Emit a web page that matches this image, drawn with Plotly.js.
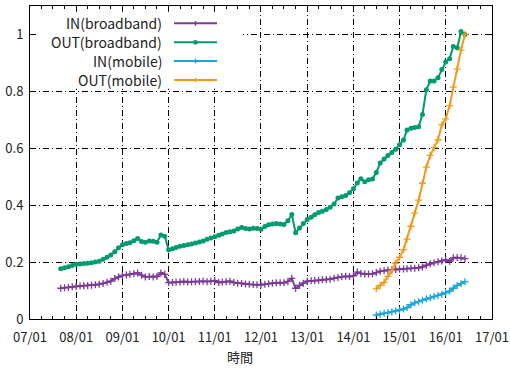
<!DOCTYPE html>
<html>
<head>
<meta charset="utf-8">
<script src="https://cdn.plot.ly/plotly-3.0.1.min.js"></script>
<style>
html,body{margin:0;padding:0;background:#fff;}
#chart{width:510px;height:374px;}
</style>
</head>
<body>
<div id="chart"></div>
<script>
// Monthly series; broadband from 2007-09, mobile from 2014-07, both through 2016-06
const bbStart = "2007-09";
const mobStart = "2014-07";

const inBroadband = [
  0.108,0.110,0.111,0.113,0.115,0.116,0.117,0.118,0.119,0.120,0.122,0.125,
  0.129,0.133,0.142,0.148,0.153,0.155,0.157,0.159,0.162,0.154,0.148,0.149,
  0.148,0.149,0.162,0.157,0.128,0.128,0.129,0.130,0.132,0.130,0.131,0.131,
  0.132,0.133,0.131,0.133,0.135,0.128,0.130,0.131,0.133,0.128,0.126,0.125,
  0.123,0.122,0.121,0.120,0.120,0.122,0.124,0.126,0.127,0.127,0.127,0.132,
  0.143,0.108,0.118,0.126,0.133,0.134,0.135,0.136,0.138,0.139,0.140,0.143,
  0.146,0.149,0.150,0.149,0.152,0.165,0.160,0.158,0.158,0.159,0.163,0.168,
  0.170,0.172,0.173,0.174,0.175,0.176,0.177,0.178,0.178,0.180,0.183,0.189,
  0.194,0.198,0.201,0.204,0.208,0.203,0.215,0.216,0.215,0.212
];
const outBroadband = [
  0.177,0.180,0.184,0.188,0.192,0.193,0.195,0.196,0.198,0.200,0.203,0.210,
  0.217,0.225,0.236,0.250,0.261,0.265,0.268,0.275,0.283,0.272,0.270,0.274,
  0.273,0.270,0.295,0.291,0.243,0.247,0.251,0.256,0.258,0.261,0.264,0.267,
  0.271,0.274,0.280,0.285,0.289,0.294,0.299,0.304,0.307,0.309,0.316,0.322,
  0.318,0.316,0.319,0.318,0.315,0.325,0.331,0.334,0.336,0.334,0.332,0.345,
  0.367,0.303,0.320,0.336,0.350,0.358,0.366,0.374,0.379,0.385,0.393,0.404,
  0.425,0.430,0.434,0.444,0.458,0.478,0.493,0.482,0.489,0.492,0.515,0.548,
  0.562,0.575,0.585,0.597,0.612,0.629,0.664,0.670,0.673,0.676,0.719,0.806,
  0.836,0.836,0.848,0.877,0.903,0.915,0.958,0.953,1.010,1.000
];
const inMobile = [
  0.014,0.017,0.020,0.022,0.025,0.028,0.031,0.035,0.040,0.050,0.057,0.061,
  0.066,0.071,0.075,0.079,0.083,0.087,0.092,0.098,0.108,0.118,0.124,0.131
];
const outMobile = [
  0.106,0.118,0.129,0.150,0.170,0.196,0.217,0.243,0.281,0.326,0.372,0.418,
  0.477,0.534,0.575,0.602,0.630,0.682,0.703,0.750,0.815,0.878,0.945,1.000
];
const seriesNames = ["IN(broadband)","OUT(broadband)","IN(mobile)","OUT(mobile)"];
const xTickFormat = "%y/%m";
const xAxisTitle = "時間";

function monthSeq(start, n){
  const [y0,m0] = start.split("-").map(Number);
  const out = [];
  for(let i=0;i<n;i++){
    const t = (m0-1)+i;
    const y = y0 + Math.floor(t/12), m = (t%12)+1;
    out.push(y + "-" + String(m).padStart(2,"0") + "-01");
  }
  return out;
}
const bbDates = monthSeq(bbStart, inBroadband.length);
const mobDates = monthSeq(mobStart, inMobile.length);

const colors = ["#7b3a96","#009b70","#1aa6dc","#f09a1a"];
const FONT = "'Noto Sans CJK JP', 'Noto Sans', sans-serif";

const crossMarker = c => ({symbol:"cross-thin-open", size:5, color:c, line:{color:c, width:1.3}});
const traces = [
  {x:bbDates, y:inBroadband, name:seriesNames[0], mode:"lines+markers",
   line:{color:colors[0], width:2}, marker:crossMarker(colors[0])},
  {x:bbDates, y:outBroadband, name:seriesNames[1], mode:"lines+markers",
   line:{color:colors[1], width:2}, marker:{symbol:"circle", size:5, color:colors[1]}},
  {x:mobDates, y:inMobile, name:seriesNames[2], mode:"lines+markers",
   line:{color:colors[2], width:2}, marker:crossMarker(colors[2])},
  {x:mobDates, y:outMobile, name:seriesNames[3], mode:"lines+markers",
   line:{color:colors[3], width:2}, marker:crossMarker(colors[3])}
];
traces.forEach(t=>{t.showlegend=false; t.hoverinfo="skip";});

// manual legend (text right-aligned, sample line to the right), in paper coords
const legY = [0.9447, 0.884, 0.8243, 0.7636];
const shapes = [
  // white legend background hiding the grid behind the key (leaves border ticks visible)
  {type:"rect", xref:"paper", yref:"paper", x0:0.013, x1:0.461, y0:0.736, y1:0.982,
   fillcolor:"#fff", line:{width:0}, layer:"above"}
];
const annotations = [];
legY.forEach((yy,i)=>{
  annotations.push({xref:"paper", yref:"paper", x:0.288, y:yy, xanchor:"right", yanchor:"middle",
    text:seriesNames[i], showarrow:false, borderpad:0, font:{family:FONT, size:14, color:"#222"}});
  shapes.push({type:"line", xref:"paper", yref:"paper", x0:0.3117, x1:0.4048, y0:yy, y1:yy,
    line:{color:colors[i], width:2}, layer:"above"});
  if(i===1){
    shapes.push({type:"circle", xref:"paper", yref:"paper", x0:0.3582-0.0052, x1:0.3582+0.0052,
      y0:yy-0.0077, y1:yy+0.0077, fillcolor:colors[i], line:{color:colors[i], width:0}, layer:"above"});
  } else {
    shapes.push({type:"line", xref:"paper", yref:"paper", x0:0.3582, x1:0.3582, y0:yy-0.0075, y1:yy+0.0075,
      line:{color:colors[i], width:1.5}, layer:"above"});
  }
});
annotations.push({xref:"paper", yref:"paper", x:0.4545, y:-0.12, xanchor:"center", yanchor:"middle",
  text:xAxisTitle, showarrow:false, borderpad:0, font:{family:FONT, size:13, color:"#222"}});

const gridDash = "6px,3px,1px,3px";
const layout = {
  width:510, height:374,
  margin:{l:30, r:18, t:6, b:55},
  paper_bgcolor:"#fff", plot_bgcolor:"#fff",
  font:{family:FONT, size:13, color:"#222"},
  showlegend:false,
  xaxis:{type:"date", range:["2007-01-01","2017-01-01"], tick0:"2007-01-01", dtick:"M12",
    tickformat:xTickFormat, showgrid:true, gridcolor:"#000", gridwidth:1, griddash:gridDash,
    showline:true, linecolor:"#000", linewidth:1, mirror:"ticks", ticks:"inside", ticklen:5, tickcolor:"#000",
    minor:{dtick:"M3", ticks:"inside", ticklen:3, tickcolor:"#000", showgrid:false},
    ticklabelstandoff:6,
    zeroline:false, tickfont:{family:FONT, size:13, color:"#222"}},
  yaxis:{range:[0,1.1], dtick:0.2, tick0:0, showgrid:true, gridcolor:"#000", gridwidth:1, griddash:gridDash,
    showline:true, linecolor:"#000", linewidth:1, mirror:"ticks", ticks:"inside", ticklen:5, tickcolor:"#000",
    ticklabelstandoff:3,
    zeroline:false, tickfont:{family:FONT, size:13, color:"#222"}},
  shapes:shapes, annotations:annotations
};
Plotly.newPlot("chart", traces, layout, {staticPlot:true, displayModeBar:false});
</script>
</body>
</html>
